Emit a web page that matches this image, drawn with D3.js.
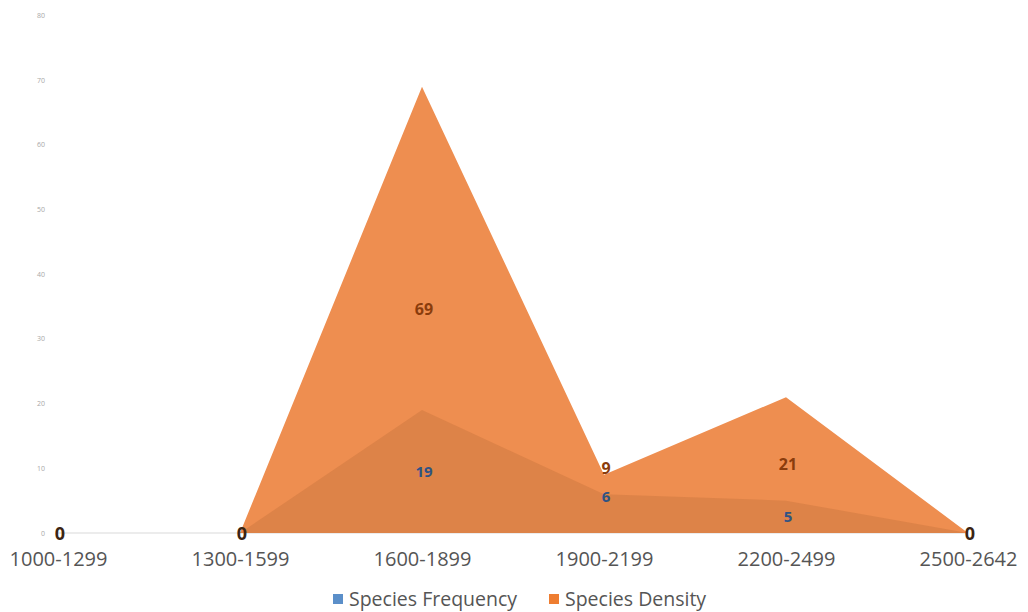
<!DOCTYPE html>
<html>
<head>
<meta charset="utf-8">
<script src="https://cdn.jsdelivr.net/npm/d3@7"></script>
<style>
  html, body { margin: 0; padding: 0; background: #ffffff; }
  svg { display: block; }
</style>
</head>
<body>
<svg id="chart" width="1028" height="612"></svg>
<script>
// Altitude bands (m) and the two measured series
const categories = ["1000-1299", "1300-1599", "1600-1899", "1900-2199", "2200-2499", "2500-2642"];
const speciesFrequency = [0, 0, 19, 6, 5, 0];
const speciesDensity = [0, 0, 69, 9, 21, 0];
const yTicks = [0, 10, 20, 30, 40, 50, 60, 70, 80];
const seriesNames = ["Species Frequency", "Species Density"];

const svg = d3.select("#chart");
const font = "'Open Sans', 'Liberation Sans', sans-serif";

const x = d3.scalePoint().domain(categories).range([58, 968]);
const y = d3.scaleLinear().domain([0, 80]).range([533, 15.5]);

// faint value axis labels
svg.append("g")
  .selectAll("text")
  .data(yTicks)
  .join("text")
  .attr("x", 45)
  .attr("y", d => y(d) + 2.5)
  .attr("text-anchor", "end")
  .attr("font-family", font)
  .attr("font-size", 7)
  .attr("fill", "#a8a8a8")
  .text(d => d);

// baseline
svg.append("line")
  .attr("x1", 58).attr("x2", 968)
  .attr("y1", y(0)).attr("y2", y(0))
  .attr("stroke", "#d9d9d9").attr("stroke-width", 1);

const area = d3.area()
  .x((d, i) => x(categories[i]))
  .y0(y(0))
  .y1(d => y(d));

// density area first, frequency shaded over it
svg.append("path")
  .datum(speciesDensity)
  .attr("d", area)
  .attr("fill", "#ee8e50");

svg.append("path")
  .datum(speciesFrequency)
  .attr("d", area)
  .attr("fill", "#8a4a1e")
  .attr("fill-opacity", 0.16);

// data labels: inside each area, or stacked apart where the two nearly meet
const crowded = [false, false, false, true, false, false];
function labelY(v, i, series) {
  if (v === 0) return y(0) + 7;
  if (crowded[i]) return series === 0 ? y(v) + 8 : y(v) - 1;
  return y(v / 2) + 5;
}

svg.append("g")
  .selectAll("text")
  .data(speciesFrequency.map((v, i) => ({ v, i })).filter(d => d.v !== 0))
  .join("text")
  .attr("x", d => x(categories[d.i]) + 2)
  .attr("y", d => labelY(d.v, d.i, 0))
  .attr("text-anchor", "middle")
  .attr("font-family", font)
  .attr("font-weight", "bold")
  .attr("font-size", 15)
  .attr("fill", "#2f5383")
  .text(d => d.v);

svg.append("g")
  .selectAll("text")
  .data(speciesDensity.map((v, i) => ({ v, i })))
  .join("text")
  .attr("x", d => x(categories[d.i]) + 2)
  .attr("y", d => labelY(d.v, d.i, 1))
  .attr("text-anchor", "middle")
  .attr("font-family", font)
  .attr("font-weight", "bold")
  .attr("font-size", d => d.v === 0 ? 18 : 16)
  .attr("fill", d => d.v === 0 ? "#3b2412" : "#8a3c0c")
  .text(d => d.v);

// category axis
const xAxis = svg.append("g")
  .attr("transform", `translate(0, ${y(0)})`)
  .call(d3.axisBottom(x).tickSize(0).tickPadding(19));
xAxis.select(".domain").remove();
xAxis.selectAll("text")
  .attr("font-family", font)
  .attr("font-size", 20)
  .attr("fill", "#555555");

// legend
const legendColors = ["#5b8fc9", "#ee7d31"];
const legendX = [333, 549];
const legend = svg.append("g");
seriesNames.forEach((name, i) => {
  legend.append("rect")
    .attr("x", legendX[i]).attr("y", 594)
    .attr("width", 10).attr("height", 10)
    .attr("fill", legendColors[i]);
  legend.append("text")
    .attr("x", legendX[i] + 16).attr("y", 606)
    .attr("font-family", font)
    .attr("font-size", 19.5)
    .attr("fill", "#555555")
    .text(name);
});
</script>
</body>
</html>
